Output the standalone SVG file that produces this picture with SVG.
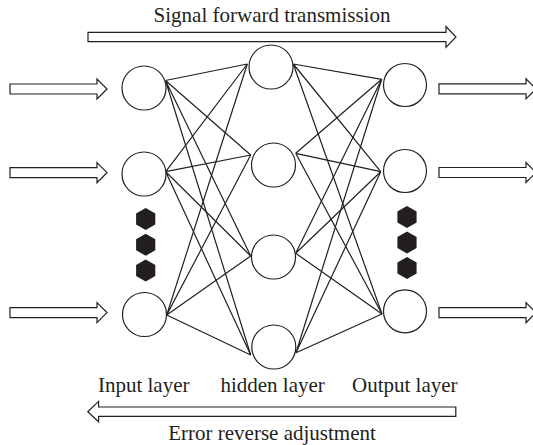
<svg xmlns="http://www.w3.org/2000/svg" xmlns:xlink="http://www.w3.org/1999/xlink" width="533" height="445" viewBox="0 0 533 445">
  <style>
    .bg { fill: #ffffff; }
    .node { fill: #ffffff; stroke: #231f20; stroke-width: 1.2; }
    .link { stroke: #231f20; stroke-width: 1.2; fill: none; }
    .arrow { fill: #ffffff; stroke: #231f20; stroke-width: 1.2; stroke-linejoin: miter; }
    .dot { fill: #231f20; }
    .label { font-family: "Liberation Serif", "Times New Roman", serif; font-size: 21px; fill: #231f20; text-anchor: middle; }
  </style>
  <defs>
    <!-- short hollow block arrow pointing right, origin at the tail centre -->
    <path id="blockArrow" class="arrow" d="M0,-5 H87 V-10 L97,0 L87,10 V5 H0 Z"/>
    <!-- pointy-top hexagon used as an ellipsis mark -->
    <polygon id="hex" class="dot" points="0,-11 9.6,-5.5 9.6,5.5 0,11 -9.6,5.5 -9.6,-5.5"/>
  </defs>

  <rect class="bg" x="0" y="0" width="533" height="445"/>

  <!-- direction banners -->
  <g id="forward">
    <path class="arrow" d="M88,32.3 H446 V26.5 L456,37 L446,47.3 V41.6 H88 Z"/>
    <text class="label" x="272" y="22">Signal forward transmission</text>
  </g>
  <g id="backward">
    <path class="arrow" d="M455.8,407 H98.6 V401.4 L87.8,411.7 L98.6,421.8 V416.3 H455.8 Z"/>
    <text class="label" x="272" y="439.5">Error reverse adjustment</text>
  </g>

  <!-- connectors -->
  <g id="connectors" class="link">
    <!-- input -> hidden -->
    <path d="M165.5,80.5 L247.3,64 M165.5,80.5 L250.7,155 M165.5,80.5 L250.7,256 M165.5,80.5 L250.7,355"/>
    <path d="M165.7,171.7 L247.3,64 M165.7,171.7 L250.7,155 M165.7,171.7 L250.7,256 M165.7,171.7 L250.7,355"/>
    <path d="M166.7,315 L247.3,64 M166.7,315 L250.7,155 M166.7,315 L250.7,256 M166.7,315 L250.7,355"/>
    <!-- hidden -> output -->
    <path d="M293.3,64 L381.7,79.3 M293.3,64 L380.7,171.7 M293.3,64 L382,314"/>
    <path d="M295.7,153.3 L381.7,79.3 M295.7,153.3 L380.7,171.7 M295.7,153.3 L382,314"/>
    <path d="M295.7,253.3 L381.7,79.3 M295.7,253.3 L380.7,171.7 M295.7,253.3 L382,314"/>
    <path d="M296,352.7 L381.7,79.3 M296,352.7 L380.7,171.7 M296,352.7 L382,314"/>
  </g>

  <!-- input layer -->
  <g id="in-arrow-1"><use xlink:href="#blockArrow" transform="translate(10,89)"/></g>
  <g id="in-arrow-2"><use xlink:href="#blockArrow" transform="translate(10,172.7)"/></g>
  <g id="in-arrow-3"><use xlink:href="#blockArrow" transform="translate(10,312.6)"/></g>
  <g id="input-1"><circle class="node" cx="144" cy="88" r="22"/></g>
  <g id="input-2"><circle class="node" cx="144" cy="174" r="22"/></g>
  <g id="input-3"><circle class="node" cx="144.5" cy="314.5" r="22"/></g>
  <g id="input-ellipsis">
    <use xlink:href="#hex" transform="translate(145.7,219)"/>
    <use xlink:href="#hex" transform="translate(145.7,244.8)"/>
    <use xlink:href="#hex" transform="translate(145.7,270.6)"/>
  </g>

  <!-- hidden layer -->
  <g id="hidden-1"><circle class="node" cx="271" cy="67" r="22"/></g>
  <g id="hidden-2"><circle class="node" cx="273.5" cy="165" r="22"/></g>
  <g id="hidden-3"><circle class="node" cx="273.5" cy="257" r="22"/></g>
  <g id="hidden-4"><circle class="node" cx="273.8" cy="347" r="22"/></g>

  <!-- output layer -->
  <g id="output-1"><circle class="node" cx="405" cy="85" r="21.5"/></g>
  <g id="output-2"><circle class="node" cx="405" cy="171" r="21.5"/></g>
  <g id="output-3"><circle class="node" cx="405" cy="311.3" r="21.5"/></g>
  <g id="output-ellipsis">
    <use xlink:href="#hex" transform="translate(407,217)"/>
    <use xlink:href="#hex" transform="translate(407,242.5)"/>
    <use xlink:href="#hex" transform="translate(407,268)"/>
  </g>
  <g id="out-arrow-1"><use xlink:href="#blockArrow" transform="translate(439,88.8)"/></g>
  <g id="out-arrow-2"><use xlink:href="#blockArrow" transform="translate(439,172.5)"/></g>
  <g id="out-arrow-3"><use xlink:href="#blockArrow" transform="translate(439,312.7)"/></g>

  <!-- layer captions -->
  <g id="captions">
    <text class="label" x="143.7" y="391.8">Input layer</text>
    <text class="label" x="272.6" y="391.8">hidden layer</text>
    <text class="label" x="404.8" y="391.8">Output layer</text>
  </g>
</svg>
